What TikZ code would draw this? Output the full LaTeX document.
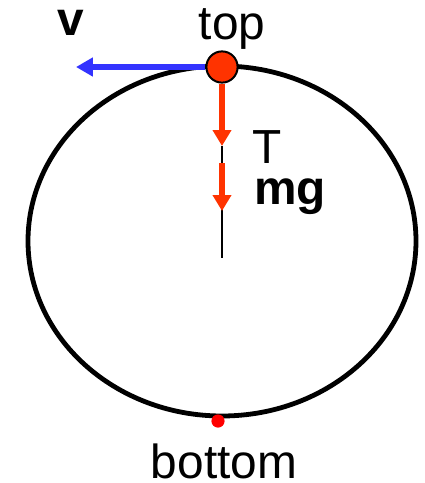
\documentclass[tikz,border=0pt]{standalone}
\usepackage{fontspec}
\setmainfont{Liberation Sans}
\usetikzlibrary{arrows.meta}
\tikzset{
  forcearrow/.style={line width=0.14cm, -{Triangle[length=0.4cm,width=0.45cm]}},
  lbl/.style={font=\fontsize{34}{40}\selectfont, inner sep=0pt}
}
\begin{document}
\begin{tikzpicture}[x=0.025cm, y=-0.025cm]
                \useasboundingbox (0,0) rectangle (424,483);
                % Circular path
                \draw[line width=0.12cm] (222,241) ellipse (194 and 175);
                \coordinate (c) at (222,258);
                \coordinate (t1) at (222,146);
                \coordinate (t2) at (222,163);
                \coordinate (m1) at (222,211);
                \coordinate (vtip) at (76,67);
                
                % Center line
                \draw[line width=0.065cm] (t1) -- (c);
                
                % Ball at top and point at bottom
                \node[circle, draw, line width=0.05cm, fill={rgb,255:red,255;green,51;blue,0}, minimum size=0.78cm, inner sep=0pt] (ball) at (222,67) {};
                \node[circle, fill=red, minimum size=0.33cm, inner sep=0pt] (bot) at (218,421) {};
                
                % Forces and velocity
                \draw[forcearrow, color={rgb,255:red,255;green,51;blue,0}] (ball.south) -- (t1);
                \draw[forcearrow, color={rgb,255:red,255;green,51;blue,0}] (t2) -- (m1);
                \draw[line width=0.17cm, color={rgb,255:red,51;green,51;blue,255}, -{Triangle[length=0.42cm,width=0.45cm]}] (ball.west) -- (vtip);
                
                % Labels
                \node[lbl] (top) at (232,29) {top};
                \node[lbl] (vlab) at (71,23) {\bfseries v};
                \node[lbl] (tlab) at (267,147) {T};
                \node[lbl] (mglab) at (290,197) {\bfseries mg};
                \node[lbl] (bottom) at (224,461) {bottom};
            \end{tikzpicture}
\end{document}
